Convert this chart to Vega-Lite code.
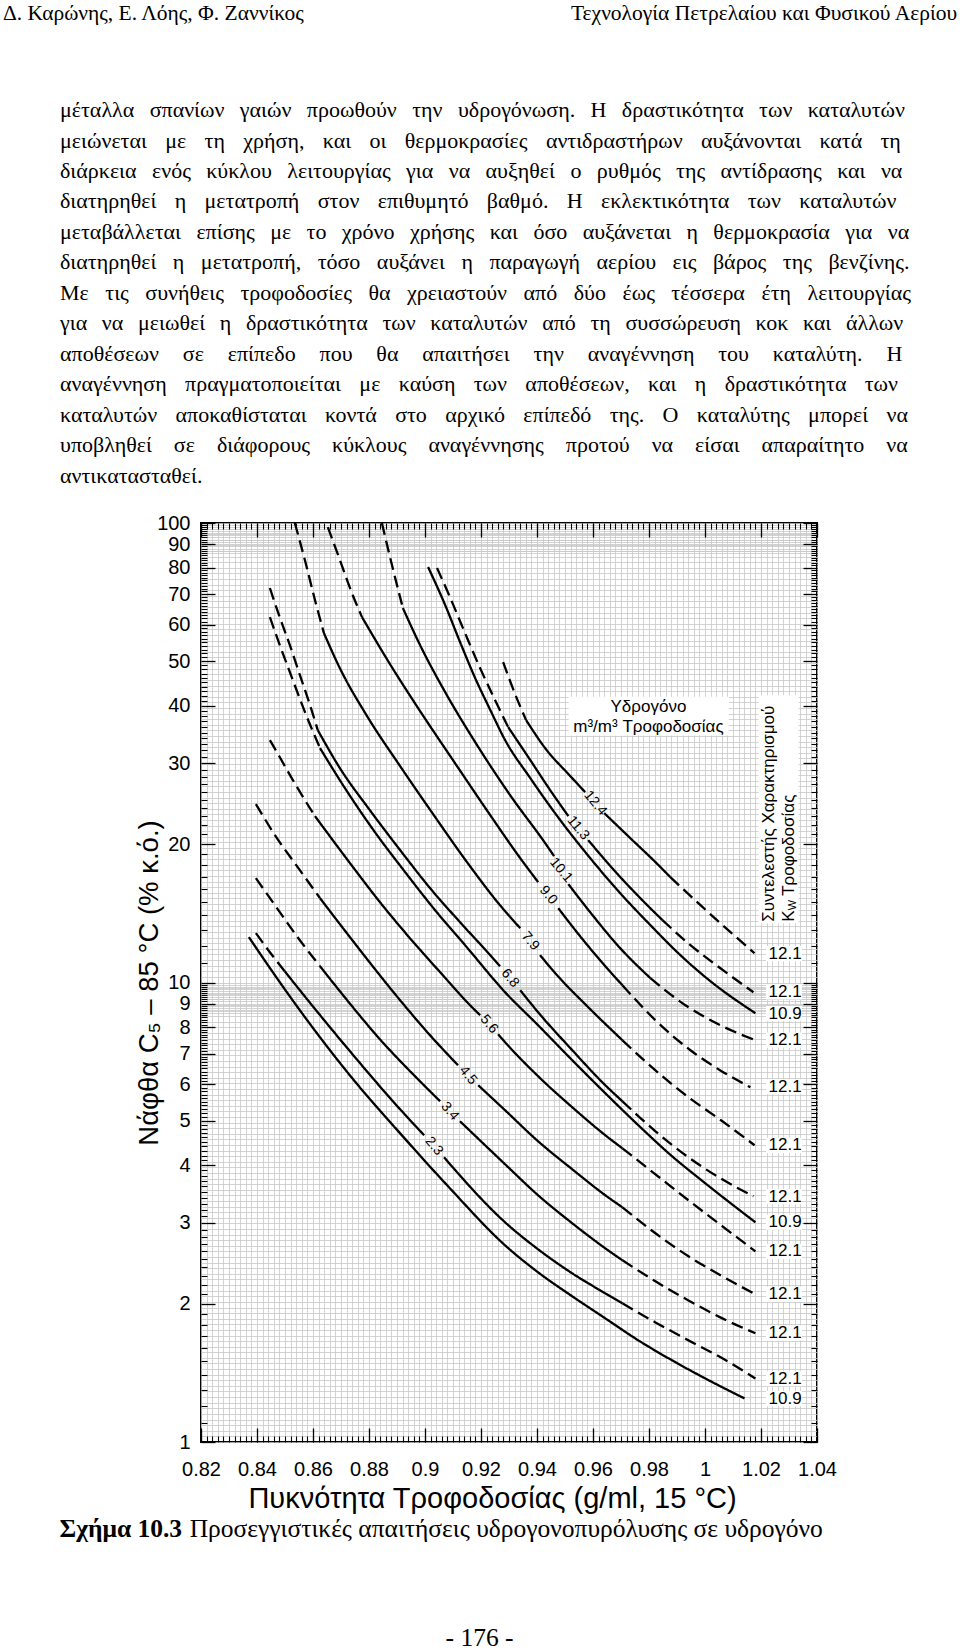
{
"$schema": "https://vega.github.io/schema/vega-lite/v6.json",
"padding": 0,
"spacing": 0,
"bounds": "flush",
"config": {"view": {"stroke": null}, "font": "Liberation Sans", "background": "white"},
"datasets": {
"curves": [
{"s":"1a","d":"dashed","x":0.9279,"y":49.8},{"s":"1a","d":"dashed","x":0.9322,"y":42.4},{"s":"1a","d":"dashed","x":0.9361,"y":37.25},
{"s":"1b","d":"solid","x":0.9361,"y":37.25},{"s":"1b","d":"solid","x":0.9429,"y":32.37},{"s":"1b","d":"solid","x":0.9519,"y":28.13},{"s":"1b","d":"solid","x":0.9572,"y":25.96},
{"s":"1c","d":"solid","x":0.964,"y":23.37},{"s":"1c","d":"solid","x":0.9733,"y":20.62},{"s":"1c","d":"solid","x":0.9823,"y":18.28},{"s":"1c","d":"solid","x":0.9876,"y":16.96},
{"s":"1d","d":"dashed","x":0.9876,"y":16.96},{"s":"1d","d":"dashed","x":0.9984,"y":14.73},{"s":"1d","d":"dashed","x":1.0091,"y":12.87},{"s":"1d","d":"dashed","x":1.0177,"y":11.58},
{"s":"2a","d":"dashed","x":0.9043,"y":79.8},{"s":"2a","d":"dashed","x":0.9089,"y":69.0},{"s":"2a","d":"dashed","x":0.9143,"y":57.6},{"s":"2a","d":"dashed","x":0.9197,"y":48.3},{"s":"2a","d":"dashed","x":0.925,"y":41.2},{"s":"2a","d":"dashed","x":0.9297,"y":35.96},
{"s":"2b","d":"solid","x":0.9297,"y":35.96},{"s":"2b","d":"solid","x":0.9376,"y":30.48},{"s":"2b","d":"solid","x":0.9447,"y":26.22},{"s":"2b","d":"solid","x":0.9512,"y":23.02},
{"s":"2c","d":"solid","x":0.9583,"y":20.41},{"s":"2c","d":"solid","x":0.9662,"y":17.92},{"s":"2c","d":"solid","x":0.9769,"y":15.26},{"s":"2c","d":"solid","x":0.9848,"y":13.67},
{"s":"2d","d":"dashed","x":0.9848,"y":13.67},{"s":"2d","d":"dashed","x":0.9948,"y":12.06},{"s":"2d","d":"dashed","x":1.0055,"y":10.74},{"s":"2d","d":"dashed","x":1.0173,"y":9.525},
{"s":"3a","d":"solid","x":0.9011,"y":80.2},{"s":"3a","d":"solid","x":0.9072,"y":66.3},{"s":"3a","d":"solid","x":0.9125,"y":55.1},{"s":"3a","d":"solid","x":0.9179,"y":46.0},{"s":"3a","d":"solid","x":0.9233,"y":39.2},{"s":"3a","d":"solid","x":0.9286,"y":33.7},{"s":"3a","d":"solid","x":0.9376,"y":27.85},{"s":"3a","d":"solid","x":0.9483,"y":22.56},{"s":"3a","d":"solid","x":0.959,"y":18.65},{"s":"3a","d":"solid","x":0.9697,"y":15.65},{"s":"3a","d":"solid","x":0.9805,"y":13.33},{"s":"3a","d":"solid","x":0.9912,"y":11.47},{"s":"3a","d":"solid","x":1.0019,"y":10.07},{"s":"3a","d":"solid","x":1.018,"y":8.572},
{"s":"4a","d":"dashed","x":0.8846,"y":100},{"s":"4a","d":"dashed","x":0.8882,"y":81.0},{"s":"4a","d":"dashed","x":0.8921,"y":65.3},
{"s":"4b","d":"solid","x":0.8921,"y":65.3},{"s":"4b","d":"solid","x":0.8982,"y":54.3},{"s":"4b","d":"solid","x":0.9072,"y":42.85},{"s":"4b","d":"solid","x":0.9179,"y":33.37},{"s":"4b","d":"solid","x":0.9304,"y":25.57},{"s":"4b","d":"solid","x":0.9429,"y":20.11},{"s":"4b","d":"solid","x":0.9461,"y":18.84},
{"s":"4c","d":"solid","x":0.9512,"y":16.37},{"s":"4c","d":"solid","x":0.959,"y":14.22},{"s":"4c","d":"solid","x":0.9697,"y":11.88},{"s":"4c","d":"solid","x":0.9805,"y":10.22},
{"s":"4d","d":"dashed","x":0.9805,"y":10.22},{"s":"4d","d":"dashed","x":0.993,"y":8.924},{"s":"4d","d":"dashed","x":1.0055,"y":8.072},{"s":"4d","d":"dashed","x":1.018,"y":7.487},
{"s":"5a","d":"dashed","x":0.8653,"y":98.0},{"s":"5a","d":"dashed","x":0.8696,"y":83.1},{"s":"5a","d":"dashed","x":0.8739,"y":70.4},{"s":"5a","d":"dashed","x":0.8775,"y":62.4},
{"s":"5b","d":"solid","x":0.8775,"y":62.4},{"s":"5b","d":"solid","x":0.8875,"y":49.3},{"s":"5b","d":"solid","x":0.8982,"y":39.0},{"s":"5b","d":"solid","x":0.9107,"y":30.03},{"s":"5b","d":"solid","x":0.9233,"y":23.13},{"s":"5b","d":"solid","x":0.934,"y":18.65},{"s":"5b","d":"solid","x":0.9404,"y":16.54},
{"s":"5c","d":"solid","x":0.9476,"y":14.51},{"s":"5c","d":"solid","x":0.9554,"y":12.61},{"s":"5c","d":"solid","x":0.9644,"y":10.85},{"s":"5c","d":"solid","x":0.9705,"y":9.865},
{"s":"5d","d":"dashed","x":0.9705,"y":9.865},{"s":"5d","d":"dashed","x":0.9823,"y":8.277},{"s":"5d","d":"dashed","x":0.9948,"y":7.122},{"s":"5d","d":"dashed","x":1.0055,"y":6.437},{"s":"5d","d":"dashed","x":1.0162,"y":5.916},
{"s":"6a","d":"dashed","x":0.8535,"y":100},{"s":"6a","d":"dashed","x":0.8571,"y":83.1},{"s":"6a","d":"dashed","x":0.8607,"y":68.0},{"s":"6a","d":"dashed","x":0.8639,"y":57.6},
{"s":"6b","d":"solid","x":0.8639,"y":57.6},{"s":"6b","d":"solid","x":0.8696,"y":48.3},{"s":"6b","d":"solid","x":0.8793,"y":38.0},{"s":"6b","d":"solid","x":0.8911,"y":29.58},{"s":"6b","d":"solid","x":0.9029,"y":23.25},{"s":"6b","d":"solid","x":0.915,"y":18.28},{"s":"6b","d":"solid","x":0.9268,"y":14.73},{"s":"6b","d":"solid","x":0.934,"y":13.13},
{"s":"6c","d":"solid","x":0.9411,"y":11.47},{"s":"6c","d":"solid","x":0.9465,"y":10.48},{"s":"6c","d":"solid","x":0.9583,"y":8.835},{"s":"6c","d":"solid","x":0.9705,"y":7.487},
{"s":"6d","d":"dashed","x":0.9705,"y":7.487},{"s":"6d","d":"dashed","x":0.9823,"y":6.437},{"s":"6d","d":"dashed","x":0.9941,"y":5.627},{"s":"6d","d":"dashed","x":1.0062,"y":4.989},{"s":"6d","d":"dashed","x":1.0177,"y":4.424},
{"s":"7a","d":"dashed","x":0.8446,"y":72.2},{"s":"7a","d":"dashed","x":0.8481,"y":62.4},{"s":"7a","d":"dashed","x":0.8517,"y":54.3},{"s":"7a","d":"dashed","x":0.8553,"y":46.7},{"s":"7a","d":"dashed","x":0.8589,"y":40.2},{"s":"7a","d":"dashed","x":0.8617,"y":35.43},
{"s":"7b","d":"solid","x":0.8617,"y":35.43},{"s":"7b","d":"solid","x":0.8696,"y":29.28},{"s":"7b","d":"solid","x":0.8803,"y":23.72},{"s":"7b","d":"solid","x":0.8911,"y":19.42},{"s":"7b","d":"solid","x":0.9018,"y":16.05},{"s":"7b","d":"solid","x":0.9125,"y":13.53},{"s":"7b","d":"solid","x":0.9233,"y":11.47},{"s":"7b","d":"solid","x":0.9268,"y":10.85},
{"s":"7c","d":"solid","x":0.934,"y":9.621},{"s":"7c","d":"solid","x":0.9404,"y":8.616},{"s":"7c","d":"solid","x":0.9526,"y":7.122},{"s":"7c","d":"solid","x":0.9644,"y":5.976},{"s":"7c","d":"solid","x":0.9705,"y":5.515},
{"s":"7d","d":"dashed","x":0.9705,"y":5.515},{"s":"7d","d":"dashed","x":0.9823,"y":4.745},{"s":"7d","d":"dashed","x":0.9941,"y":4.164},{"s":"7d","d":"dashed","x":1.0055,"y":3.749},{"s":"7d","d":"dashed","x":1.0173,"y":3.425},
{"s":"8a","d":"dashed","x":0.8446,"y":62.4},{"s":"8a","d":"dashed","x":0.8481,"y":54.3},{"s":"8a","d":"dashed","x":0.8524,"y":46.2},{"s":"8a","d":"dashed","x":0.8571,"y":38.8},{"s":"8a","d":"dashed","x":0.8625,"y":32.37},
{"s":"8b","d":"solid","x":0.8625,"y":32.37},{"s":"8b","d":"solid","x":0.8714,"y":26.49},{"s":"8b","d":"solid","x":0.8821,"y":21.25},{"s":"8b","d":"solid","x":0.8929,"y":17.39},{"s":"8b","d":"solid","x":0.9036,"y":14.37},{"s":"8b","d":"solid","x":0.9143,"y":12.06},{"s":"8b","d":"solid","x":0.9286,"y":9.525},{"s":"8b","d":"solid","x":0.9404,"y":8.072},{"s":"8b","d":"solid","x":0.9526,"y":6.773},{"s":"8b","d":"solid","x":0.9644,"y":5.741},{"s":"8b","d":"solid","x":0.9762,"y":4.89},{"s":"8b","d":"solid","x":0.9883,"y":4.184},{"s":"8b","d":"solid","x":1.0001,"y":3.656},{"s":"8b","d":"solid","x":1.018,"y":3.007},
{"s":"9a","d":"dashed","x":0.8446,"y":33.7},{"s":"9a","d":"dashed","x":0.8481,"y":30.95},{"s":"9a","d":"dashed","x":0.8524,"y":27.85},{"s":"9a","d":"dashed","x":0.8571,"y":24.94},{"s":"9a","d":"dashed","x":0.8607,"y":23.02},
{"s":"9b","d":"solid","x":0.8607,"y":23.02},{"s":"9b","d":"solid","x":0.8732,"y":18.19},{"s":"9b","d":"solid","x":0.8839,"y":14.96},{"s":"9b","d":"solid","x":0.8946,"y":12.49},{"s":"9b","d":"solid","x":0.9054,"y":10.53},{"s":"9b","d":"solid","x":0.9161,"y":8.924},{"s":"9b","d":"solid","x":0.9197,"y":8.487},
{"s":"9c","d":"solid","x":0.9261,"y":7.716},{"s":"9c","d":"solid","x":0.9286,"y":7.413},{"s":"9c","d":"solid","x":0.9404,"y":6.252},{"s":"9c","d":"solid","x":0.9526,"y":5.351},{"s":"9c","d":"solid","x":0.9644,"y":4.651},{"s":"9c","d":"solid","x":0.9705,"y":4.357},
{"s":"9d","d":"dashed","x":0.9705,"y":4.357},{"s":"9d","d":"dashed","x":0.9823,"y":3.825},{"s":"9d","d":"dashed","x":0.9941,"y":3.357},{"s":"9d","d":"dashed","x":1.0062,"y":2.948},{"s":"9d","d":"dashed","x":1.018,"y":2.6},
{"s":"10a","d":"dashed","x":0.8396,"y":24.45},{"s":"10a","d":"dashed","x":0.8464,"y":20.93},{"s":"10a","d":"dashed","x":0.8553,"y":17.56},{"s":"10a","d":"dashed","x":0.8625,"y":15.26},
{"s":"10b","d":"solid","x":0.8625,"y":15.26},{"s":"10b","d":"solid","x":0.8732,"y":12.55},{"s":"10b","d":"solid","x":0.8911,"y":9.151},{"s":"10b","d":"solid","x":0.9018,"y":7.678},{"s":"10b","d":"solid","x":0.9118,"y":6.604},
{"s":"10c","d":"solid","x":0.919,"y":5.976},{"s":"10c","d":"solid","x":0.9286,"y":5.272},{"s":"10c","d":"solid","x":0.9404,"y":4.513},{"s":"10c","d":"solid","x":0.9526,"y":3.922},{"s":"10c","d":"solid","x":0.9644,"y":3.443},{"s":"10c","d":"solid","x":0.9705,"y":3.242},
{"s":"10d","d":"dashed","x":0.9705,"y":3.242},{"s":"10d","d":"dashed","x":0.9823,"y":2.846},{"s":"10d","d":"dashed","x":0.9941,"y":2.536},{"s":"10d","d":"dashed","x":1.0062,"y":2.294},{"s":"10d","d":"dashed","x":1.018,"y":2.096},
{"s":"11a","d":"dashed","x":0.8396,"y":16.87},{"s":"11a","d":"dashed","x":0.8464,"y":14.73},{"s":"11a","d":"dashed","x":0.8553,"y":12.36},{"s":"11a","d":"dashed","x":0.8625,"y":10.85},
{"s":"11b","d":"solid","x":0.8625,"y":10.85},{"s":"11b","d":"solid","x":0.8696,"y":9.573},{"s":"11b","d":"solid","x":0.8839,"y":7.525},{"s":"11b","d":"solid","x":0.8982,"y":6.097},{"s":"11b","d":"solid","x":0.9054,"y":5.515},
{"s":"11c","d":"solid","x":0.9125,"y":4.989},{"s":"11c","d":"solid","x":0.9286,"y":4.022},{"s":"11c","d":"solid","x":0.9404,"y":3.443},{"s":"11c","d":"solid","x":0.9526,"y":2.992},{"s":"11c","d":"solid","x":0.9644,"y":2.639},{"s":"11c","d":"solid","x":0.9705,"y":2.486},
{"s":"11d","d":"dashed","x":0.9705,"y":2.486},{"s":"11d","d":"dashed","x":0.9823,"y":2.237},{"s":"11d","d":"dashed","x":0.9941,"y":2.033},{"s":"11d","d":"dashed","x":1.0062,"y":1.858},{"s":"11d","d":"dashed","x":1.018,"y":1.724},
{"s":"12a","d":"dashed","x":0.8396,"y":12.81},{"s":"12a","d":"dashed","x":0.8446,"y":11.64},{"s":"12a","d":"dashed","x":0.8499,"y":10.58},
{"s":"12b","d":"solid","x":0.8499,"y":10.58},{"s":"12b","d":"solid","x":0.8553,"y":9.621},{"s":"12b","d":"solid","x":0.8732,"y":7.086},{"s":"12b","d":"solid","x":0.8911,"y":5.298},{"s":"12b","d":"solid","x":0.8997,"y":4.651},
{"s":"12c","d":"solid","x":0.9068,"y":4.164},{"s":"12c","d":"solid","x":0.9286,"y":3.007},{"s":"12c","d":"solid","x":0.9404,"y":2.626},{"s":"12c","d":"solid","x":0.9526,"y":2.328},{"s":"12c","d":"solid","x":0.9644,"y":2.106},{"s":"12c","d":"solid","x":0.9705,"y":2.003},
{"s":"12d","d":"dashed","x":0.9705,"y":2.003},{"s":"12d","d":"dashed","x":0.9823,"y":1.821},{"s":"12d","d":"dashed","x":0.9941,"y":1.664},{"s":"12d","d":"dashed","x":1.0062,"y":1.521},{"s":"12d","d":"dashed","x":1.018,"y":1.375},
{"s":"13a","d":"solid","x":0.8371,"y":12.55},{"s":"13a","d":"solid","x":0.8464,"y":10.37},{"s":"13a","d":"solid","x":0.8553,"y":8.703},{"s":"13a","d":"solid","x":0.8732,"y":6.278},{"s":"13a","d":"solid","x":0.8911,"y":4.698},{"s":"13a","d":"solid","x":0.9089,"y":3.566},{"s":"13a","d":"solid","x":0.9286,"y":2.679},{"s":"13a","d":"solid","x":0.9404,"y":2.34},{"s":"13a","d":"solid","x":0.9526,"y":2.075},{"s":"13a","d":"solid","x":0.9644,"y":1.858},{"s":"13a","d":"solid","x":0.9762,"y":1.664},{"s":"13a","d":"solid","x":0.9883,"y":1.505},{"s":"13a","d":"solid","x":1.0001,"y":1.375},{"s":"13a","d":"solid","x":1.0141,"y":1.244}
],
"kw": [
{"k":"12.1","y":11.56},{"k":"12.1","y":9.54},{"k":"10.9","y":8.56},{"k":"12.1","y":7.49},{"k":"12.1","y":5.93},{"k":"12.1","y":4.42},{"k":"12.1","y":3.42},{"k":"10.9","y":3.01},{"k":"12.1","y":2.6},{"k":"12.1","y":2.096},{"k":"12.1","y":1.726},{"k":"12.1","y":1.373},{"k":"10.9","y":1.243}
],
"lab": [
{"t":"12.4","x":0.9608,"y":24.57},{"t":"11.3","x":0.9547,"y":21.68},{"t":"10.1","x":0.9486,"y":17.56},{"t":"9.0","x":0.944,"y":15.49},{"t":"7.9","x":0.9376,"y":12.3},{"t":"6.8","x":0.9304,"y":10.22},{"t":"5.6","x":0.9229,"y":8.113},{"t":"4.5","x":0.9154,"y":6.278},{"t":"3.4","x":0.9089,"y":5.245},{"t":"2.3","x":0.9032,"y":4.402}
]
},
"vconcat": [
{
"width": 960, "height": 40,
"layer": [
{"data": {"values": [{"t": "Δ. Καρώνης, Ε. Λόης, Φ. Ζαννίκος"}]},
 "mark": {"type": "text", "align": "left", "baseline": "alphabetic", "font": "Liberation Serif", "fontSize": 21.5, "color": "#000"},
 "encoding": {"x": {"datum": 0.003, "type": "quantitative", "scale": {"domain": [0, 1]}, "axis": null}, "text": {"field": "t"}}},
{"data": {"values": [{"t": "Τεχνολογία Πετρελαίου και Φυσικού Αερίου"}]},
 "mark": {"type": "text", "align": "right", "baseline": "alphabetic", "font": "Liberation Serif", "fontSize": 21.5, "color": "#000"},
 "encoding": {"x": {"datum": 0.997, "type": "quantitative", "scale": {"domain": [0, 1]}, "axis": null}, "text": {"field": "t"}}}
]
},
{
"width": 960, "height": 483,
"data": {"values": [
{"n": 1, "t": "μέταλλα\u2002\u2009σπανίων\u2002\u2009γαιών\u2002\u2009προωθούν\u2002\u2009την\u2002\u2009υδρογόνωση.\u2002\u2009Η\u2002\u2009δραστικότητα\u2002\u2009των\u2002\u2009καταλυτών"},
{"n": 2, "t": "μειώνεται\u2002\u2004με\u2002\u2004τη\u2002\u2004χρήση,\u2002\u2004και\u2002\u2004οι\u2002\u2004θερμοκρασίες\u2002\u2004αντιδραστήρων\u2002\u2004αυξάνονται\u2002\u2004κατά\u2002\u2004τη"},
{"n": 3, "t": "διάρκεια\u2002\u2009ενός\u2002\u2009κύκλου\u2002\u2009λειτουργίας\u2002\u2009για\u2002\u2009να\u2002\u2009αυξηθεί\u2002\u2009ο\u2002\u2009ρυθμός\u2002\u2009της\u2002\u2009αντίδρασης\u2002\u2009και\u2002\u2009να"},
{"n": 4, "t": "διατηρηθεί\u2002\u2004η\u2002\u2004μετατροπή\u2002\u2004στον\u2002\u2004επιθυμητό\u2002\u2004βαθμό.\u2002\u2004Η\u2002\u2004εκλεκτικότητα\u2002\u2004των\u2002\u2004καταλυτών"},
{"n": 5, "t": "μεταβάλλεται\u2002\u2009επίσης\u2002\u2009με\u2002\u2009το\u2002\u2009χρόνο\u2002\u2009χρήσης\u2002\u2009και\u2002\u2009όσο\u2002\u2009αυξάνεται\u2002\u2009η\u2002\u2009θερμοκρασία\u2002\u2009για\u2002\u2009να"},
{"n": 6, "t": "διατηρηθεί\u2002 η\u2002 μετατροπή,\u2002 τόσο\u2002 αυξάνει\u2002 η\u2002 παραγωγή\u2002 αερίου\u2002 εις\u2002 βάρος\u2002 της\u2002 βενζίνης."},
{"n": 7, "t": "Με\u2002 τις\u2002 συνήθεις\u2002 τροφοδοσίες\u2002 θα\u2002 χρειαστούν\u2002 από\u2002 δύο\u2002 έως\u2002 τέσσερα\u2002 έτη\u2002 λειτουργίας"},
{"n": 8, "t": "για\u2002\u2006να\u2002\u2006μειωθεί\u2002\u2006η\u2002\u2006δραστικότητα\u2002\u2006των\u2002\u2006καταλυτών\u2002\u2006από\u2002\u2006τη\u2002\u2006συσσώρευση\u2002\u2006κοκ\u2002\u2006και\u2002\u2006άλλων"},
{"n": 9, "t": "αποθέσεων\u2003\u200Aσε\u2003\u200Aεπίπεδο\u2003\u200Aπου\u2003\u200Aθα\u2003\u200Aαπαιτήσει\u2003\u200Aτην\u2003\u200Aαναγέννηση\u2003\u200Aτου\u2003\u200Aκαταλύτη.\u2003\u200AΗ"},
{"n": 10, "t": "αναγέννηση\u2002\u2004πραγματοποιείται\u2002\u2004με\u2002\u2004καύση\u2002\u2004των\u2002\u2004αποθέσεων,\u2002\u2004και\u2002\u2004η\u2002\u2004δραστικότητα\u2002\u2004των"},
{"n": 11, "t": "καταλυτών\u2002\u2004αποκαθίσταται\u2002\u2004κοντά\u2002\u2004στο\u2002\u2004αρχικό\u2002\u2004επίπεδό\u2002\u2004της.\u2002\u2004Ο\u2002\u2004καταλύτης\u2002\u2004μπορεί\u2002\u2004να"},
{"n": 12, "t": "υποβληθεί\u2003σε\u2003διάφορους\u2003κύκλους\u2003αναγέννησης\u2003προτού\u2003να\u2003είσαι\u2003απαραίτητο\u2003να"},
{"n": 13, "t": "αντικατασταθεί."}
]},
"mark": {"type": "text", "align": "left", "baseline": "alphabetic", "font": "Liberation Serif", "fontSize": 22, "color": "#000"},
"encoding": {
 "x": {"datum": 0.0625, "type": "quantitative", "scale": {"domain": [0, 1]}, "axis": null},
 "y": {"field": "n", "type": "quantitative", "scale": {"domain": [-1.5246, 14.3115], "reverse": true, "nice": false, "zero": false}, "axis": null},
 "text": {"field": "t"}
}
},
{
"hconcat": [
{"width": 201, "height": 919, "data": {"values": []}, "mark": "point"},
{
"width": 616, "height": 919,
"view": {"stroke": "#000", "strokeWidth": 2},
"resolve": {"axis": {"x": "independent", "y": "independent"}},
"layer": [
{
 "data": {"name": "curves"},
 "mark": {"type": "line", "color": "#000", "strokeWidth": 2.3, "interpolate": "monotone", "clip": true},
 "encoding": {
  "x": {"field": "x", "type": "quantitative", "scale": {"domain": [0.82, 1.04], "nice": false, "zero": false},
   "axis": {"orient": "bottom", "values": [0.82,0.84,0.86,0.88,0.9,0.92,0.94,0.96,0.98,1,1.02,1.04], "format": "~g", "ticks": false, "domain": false, "grid": false, "labelFont": "Liberation Sans", "labelFontSize": 20, "labelColor": "#000", "labelPadding": 17, "labelFlush": false, "labelOverlap": false, "title": "Πυκνότητα Τροφοδοσίας (g/ml, 15 °C)", "titleFont": "Liberation Sans", "titleFontSize": 29, "titleFontWeight": "normal", "titleColor": "#000", "titlePadding": 5, "titleX": 291}},
  "y": {"field": "y", "type": "quantitative", "scale": {"type": "log", "domain": [1, 100], "nice": false},
   "axis": {"orient": "left", "values": [1,2,3,4,5,6,7,8,9,10,20,30,40,50,60,70,80,90,100], "format": "~g", "ticks": false, "domain": false, "grid": false, "labelFont": "Liberation Sans", "labelFontSize": 20, "labelColor": "#000", "labelPadding": 11, "labelOverlap": false, "labelFlush": false, "title": "Νάφθα C₅ – 85 °C (% κ.ό.)", "titleFont": "Liberation Sans", "titleFontSize": 27.5, "titleFontWeight": "normal", "titleColor": "#000", "titlePadding": -7}},
  "detail": {"field": "s"},
  "strokeDash": {"field": "d", "type": "nominal", "scale": {"domain": ["solid", "dashed"], "range": [[1, 0], [12, 6]]}, "legend": null}
 }
},
{
 "data": {"name": "lab"},
 "mark": {"type": "text", "align": "center", "baseline": "middle", "angle": 50, "fontSize": 14, "font": "Liberation Sans", "color": "#000"},
 "encoding": {
  "x": {"field": "x", "type": "quantitative", "axis": {"orient": "bottom", "values": [0.82,0.84,0.86,0.88,0.9,0.92,0.94,0.96,0.98,1,1.02,1.04], "tickSize": -14, "tickColor": "#000", "tickWidth": 1.3, "labels": false, "domain": false, "grid": false, "title": null}},
  "y": {"field": "y", "type": "quantitative", "axis": {"orient": "left", "values": [1,2,3,4,5,6,7,8,9,10,20,30,40,50,60,70,80,90,100], "tickSize": -14, "tickColor": "#000", "tickWidth": 1.3, "labels": false, "domain": false, "grid": false, "title": null}},
  "text": {"field": "t"}
 }
},
{
 "data": {"name": "kw"},
 "mark": {"type": "point", "shape": "M-1,-0.42L1,-0.42L1,0.42L-1,0.42Z", "size": 1300, "filled": true, "fill": "#fff", "stroke": null, "opacity": 1},
 "encoding": {
  "x": {"datum": 1.0282, "type": "quantitative", "axis": {"orient": "bottom", "values": [0.82,0.822,0.824,0.826,0.828,0.83,0.832,0.834,0.836,0.838,0.84,0.842,0.844,0.846,0.848,0.85,0.852,0.854,0.856,0.858,0.86,0.862,0.864,0.866,0.868,0.87,0.872,0.874,0.876,0.878,0.88,0.882,0.884,0.886,0.888,0.89,0.892,0.894,0.896,0.898,0.9,0.902,0.904,0.906,0.908,0.91,0.912,0.914,0.916,0.918,0.92,0.922,0.924,0.926,0.928,0.93,0.932,0.934,0.936,0.938,0.94,0.942,0.944,0.946,0.948,0.95,0.952,0.954,0.956,0.958,0.96,0.962,0.964,0.966,0.968,0.97,0.972,0.974,0.976,0.978,0.98,0.982,0.984,0.986,0.988,0.99,0.992,0.994,0.996,0.998,1,1.002,1.004,1.006,1.008,1.01,1.012,1.014,1.016,1.018,1.02,1.022,1.024,1.026,1.028,1.03,1.032,1.034,1.036,1.038,1.04], "tickSize": -6, "tickColor": "#000", "tickWidth": 1.1, "labels": false, "domain": false, "grid": true, "gridColor": "#c8c8c8", "gridWidth": 0.8, "title": null}},
  "y": {"field": "y", "type": "quantitative", "axis": {"orient": "left", "values": [1.1,1.2,1.3,1.4,1.5,1.6,1.7,1.8,1.9,2.1,2.2,2.3,2.4,2.5,2.6,2.7,2.8,2.9,3.1,3.2,3.3,3.4,3.5,3.6,3.7,3.8,3.9,4.1,4.2,4.3,4.4,4.5,4.6,4.7,4.8,4.9,5.1,5.2,5.3,5.4,5.5,5.6,5.7,5.8,5.9,6.1,6.2,6.3,6.4,6.5,6.6,6.7,6.8,6.9,7.1,7.2,7.3,7.4,7.5,7.6,7.7,7.8,7.9,8.1,8.2,8.3,8.4,8.5,8.6,8.7,8.8,8.9,9.1,9.2,9.3,9.4,9.5,9.6,9.7,9.8,9.9,11,12,13,14,15,16,17,18,19,21,22,23,24,25,26,27,28,29,31,32,33,34,35,36,37,38,39,41,42,43,44,45,46,47,48,49,51,52,53,54,55,56,57,58,59,61,62,63,64,65,66,67,68,69,71,72,73,74,75,76,77,78,79,81,82,83,84,85,86,87,88,89,91,92,93,94,95,96,97,98,99], "tickSize": -6, "tickColor": "#000", "tickWidth": 1.1, "labels": false, "domain": false, "grid": false, "title": null}}
 }
},
{
 "data": {"name": "kw"},
 "mark": {"type": "text", "align": "left", "baseline": "middle", "fontSize": 17, "font": "Liberation Sans", "color": "#000"},
 "encoding": {
  "x": {"datum": 1.0227, "type": "quantitative", "axis": {"orient": "top", "values": [0.82,0.84,0.86,0.88,0.9,0.92,0.94,0.96,0.98,1,1.02,1.04], "tickSize": -14, "tickColor": "#000", "tickWidth": 1.3, "labels": false, "domain": false, "grid": false, "title": null}},
  "y": {"field": "y", "type": "quantitative", "axis": {"orient": "right", "values": [1,2,3,4,5,6,7,8,9,10,20,30,40,50,60,70,80,90,100], "tickSize": -14, "tickColor": "#000", "tickWidth": 1.3, "labels": false, "domain": false, "grid": false, "title": null}},
  "text": {"field": "k"}
 }
},
{
 "data": {"values": [{}]},
 "mark": {"type": "rect", "fill": "#fff", "stroke": null},
 "encoding": {
  "x": {"datum": 0.9513, "type": "quantitative", "axis": {"orient": "top", "values": [0.82,0.822,0.824,0.826,0.828,0.83,0.832,0.834,0.836,0.838,0.84,0.842,0.844,0.846,0.848,0.85,0.852,0.854,0.856,0.858,0.86,0.862,0.864,0.866,0.868,0.87,0.872,0.874,0.876,0.878,0.88,0.882,0.884,0.886,0.888,0.89,0.892,0.894,0.896,0.898,0.9,0.902,0.904,0.906,0.908,0.91,0.912,0.914,0.916,0.918,0.92,0.922,0.924,0.926,0.928,0.93,0.932,0.934,0.936,0.938,0.94,0.942,0.944,0.946,0.948,0.95,0.952,0.954,0.956,0.958,0.96,0.962,0.964,0.966,0.968,0.97,0.972,0.974,0.976,0.978,0.98,0.982,0.984,0.986,0.988,0.99,0.992,0.994,0.996,0.998,1,1.002,1.004,1.006,1.008,1.01,1.012,1.014,1.016,1.018,1.02,1.022,1.024,1.026,1.028,1.03,1.032,1.034,1.036,1.038,1.04], "tickSize": -6, "tickColor": "#000", "tickWidth": 1.1, "labels": false, "domain": false, "grid": false, "title": null}},
  "x2": {"datum": 1.0085},
  "y": {"datum": 41.87, "type": "quantitative", "axis": {"orient": "right", "values": [1.1,1.2,1.3,1.4,1.5,1.6,1.7,1.8,1.9,2.1,2.2,2.3,2.4,2.5,2.6,2.7,2.8,2.9,3.1,3.2,3.3,3.4,3.5,3.6,3.7,3.8,3.9,4.1,4.2,4.3,4.4,4.5,4.6,4.7,4.8,4.9,5.1,5.2,5.3,5.4,5.5,5.6,5.7,5.8,5.9,6.1,6.2,6.3,6.4,6.5,6.6,6.7,6.8,6.9,7.1,7.2,7.3,7.4,7.5,7.6,7.7,7.8,7.9,8.1,8.2,8.3,8.4,8.5,8.6,8.7,8.8,8.9,9.1,9.2,9.3,9.4,9.5,9.6,9.7,9.8,9.9,11,12,13,14,15,16,17,18,19,21,22,23,24,25,26,27,28,29,31,32,33,34,35,36,37,38,39,41,42,43,44,45,46,47,48,49,51,52,53,54,55,56,57,58,59,61,62,63,64,65,66,67,68,69,71,72,73,74,75,76,77,78,79,81,82,83,84,85,86,87,88,89,91,92,93,94,95,96,97,98,99], "tickSize": -6, "tickColor": "#000", "tickWidth": 1.1, "labels": false, "domain": false, "grid": false, "title": null}},
  "y2": {"datum": 34.46}
 }
},
{
 "data": {"values": [{}]},
 "mark": {"type": "rect", "fill": "#fff", "stroke": null},
 "encoding": {
  "x": {"datum": 1.0191, "type": "quantitative", "axis": null},
  "x2": {"datum": 1.0334},
  "y": {"datum": 42.2, "type": "quantitative", "axis": null},
  "y2": {"datum": 13.46}
 }
},
{
 "data": {"values": [{"t": "Υδρογόνο"}]},
 "mark": {"type": "text", "align": "center", "baseline": "middle", "fontSize": 17, "font": "Liberation Sans", "color": "#000"},
 "encoding": {"x": {"datum": 0.9798, "type": "quantitative", "axis": null},
  "y": {"datum": 39.8, "type": "quantitative", "axis": {"orient": "left", "values": [1,1.028,1.058,1.088,1.119,1.151,1.183,1.217,1.252,1.288,1.324,1.362,1.401,1.441,1.482,1.524,1.567,1.612,1.658,1.705,1.753,1.803,1.855,1.908,1.962,2.018,2.075,2.134,2.195,2.258,2.322,2.388,2.456,2.526,2.598,2.672,2.748,2.826,2.907,2.989,3.075,3.162,3.252,3.345,3.44,3.538,3.639,3.742,3.849,3.959,4.071,4.187,4.306,4.429,4.555,4.685,4.818,4.956,5.097,5.242,5.391,5.545,5.702,5.865,6.032,6.204,6.38,6.562,6.749,6.941,7.139,7.342,7.551,7.766,7.987,8.215,8.449,8.6,8.689,8.7,8.8,8.9,8.937,9,9.1,9.191,9.2,9.3,9.4,9.453,9.5,9.6,9.7,9.722,9.8,9.9,10,10.28,10.58,10.88,11.19,11.51,11.83,12.17,12.52,12.88,13.24,13.62,14.01,14.41,14.82,15.24,15.67,16.12,16.58,17.05,17.53,18.03,18.55,19.08,19.62,20.18,20.75,21.34,21.95,22.58,23.22,23.88,24.56,25.26,25.98,26.72,27.48,28.26,29.07,29.89,30.75,31.62,32.52,33.45,34.4,35.38,36.39,37.42,38.49,39.59,40.71,41.87,43.06,44.29,45.55,46.85,48.18,49.56,50.97,52.42,53.91,55.45,57.02,58.65,60.32,62.04,63.8,65.62,67.49,69.41,71.39,73.42,75.51,77.66,79.87,82.15,84.49,86,86.89,87,88,89,89.37,90,91,91.91,92,93,94,94.53,95,96,97,97.22,98,99,100], "ticks": false, "labels": false, "domain": false, "grid": true, "gridColor": "#c8c8c8", "gridWidth": 0.8, "title": null}},
  "text": {"field": "t"}}
},
{
 "data": {"values": [{"t": "m³/m³ Τροφοδοσίας"}]},
 "mark": {"type": "text", "align": "center", "baseline": "middle", "fontSize": 17, "font": "Liberation Sans", "color": "#000"},
 "encoding": {"x": {"datum": 0.9798, "type": "quantitative", "axis": null}, "y": {"datum": 36.0, "type": "quantitative", "axis": null}, "text": {"field": "t"}}
},
{
 "data": {"values": [{"t": "Συντελεστής Χαρακτηρισμού"}]},
 "mark": {"type": "text", "align": "left", "baseline": "middle", "angle": 270, "fontSize": 17, "font": "Liberation Sans", "color": "#000"},
 "encoding": {"x": {"datum": 1.0228, "type": "quantitative", "axis": null}, "y": {"datum": 13.55, "type": "quantitative", "axis": null}, "text": {"field": "t"}}
},
{
 "data": {"values": [{"t": "K"}]},
 "mark": {"type": "text", "align": "left", "baseline": "middle", "angle": 270, "fontSize": 17, "font": "Liberation Sans", "color": "#000"},
 "encoding": {"x": {"datum": 1.0299, "type": "quantitative", "axis": null}, "y": {"datum": 13.55, "type": "quantitative", "axis": null}, "text": {"field": "t"}}
},
{
 "data": {"values": [{"t": "W"}]},
 "mark": {"type": "text", "align": "left", "baseline": "middle", "angle": 270, "fontSize": 11, "dx": 11.5, "dy": 4, "font": "Liberation Sans", "color": "#000"},
 "encoding": {"x": {"datum": 1.0299, "type": "quantitative", "axis": null}, "y": {"datum": 13.55, "type": "quantitative", "axis": null}, "text": {"field": "t"}}
},
{
 "data": {"values": [{"t": "Τροφοδοσίας"}]},
 "mark": {"type": "text", "align": "left", "baseline": "middle", "angle": 270, "fontSize": 17, "dx": 26, "font": "Liberation Sans", "color": "#000"},
 "encoding": {"x": {"datum": 1.0299, "type": "quantitative", "axis": null}, "y": {"datum": 13.55, "type": "quantitative", "axis": null}, "text": {"field": "t"}}
},
{
 "data": {"values": [{"t": "Σχήμα 10.3"}]},
 "mark": {"type": "text", "align": "left", "baseline": "alphabetic", "font": "Liberation Serif", "fontSize": 25.5, "fontWeight": "bold", "color": "#000"},
 "encoding": {"x": {"datum": 0.76946, "type": "quantitative", "axis": null}, "y": {"datum": 0.6197, "type": "quantitative", "axis": null}, "text": {"field": "t"}}
},
{
 "data": {"values": [{"t": "Προσεγγιστικές απαιτήσεις υδρογονοπυρόλυσης σε υδρογόνο"}]},
 "mark": {"type": "text", "align": "left", "baseline": "alphabetic", "font": "Liberation Serif", "fontSize": 25.5, "color": "#000"},
 "encoding": {"x": {"datum": 0.81596, "type": "quantitative", "axis": null}, "y": {"datum": 0.6197, "type": "quantitative", "axis": null}, "text": {"field": "t"}}
},
{
 "data": {"values": [{"t": "- 176 -"}]},
 "mark": {"type": "text", "align": "center", "baseline": "alphabetic", "font": "Liberation Serif", "fontSize": 25.5, "color": "#000"},
 "encoding": {"x": {"datum": 0.9195, "type": "quantitative", "axis": null}, "y": {"datum": 0.3589, "type": "quantitative", "axis": null}, "text": {"field": "t"}}
}
]
}
],
"spacing": 0,
"bounds": "flush"
}
]
}
